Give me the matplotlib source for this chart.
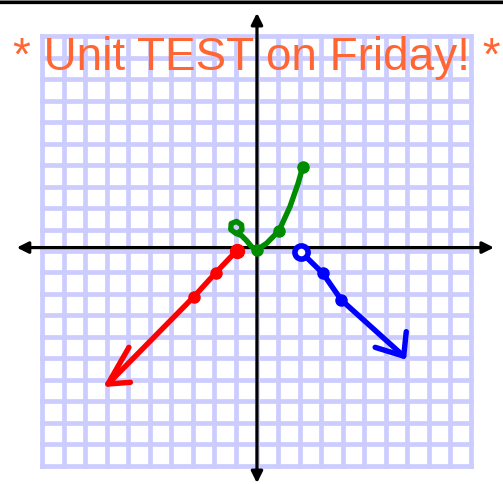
import numpy as np
import matplotlib.pyplot as plt

plt.rcParams['font.family'] = ['Liberation Sans', 'DejaVu Sans']

# hand-traced sketch, in grid units
green_x = [-0.85, -0.70, -0.72, -0.95, -1.20, -1.22, -0.98, -0.72, -0.48, -0.25, 0.00, 0.45, 1.03, 1.54, 1.92, 2.13]
green_y = [0.88, 0.98, 1.22, 1.38, 1.28, 1.00, 0.82, 0.72, 0.48, 0.20, 0.05, 0.36, 0.95, 2.07, 3.16, 3.90]
green_dots_x = [0.00, 1.03, 2.13]
green_dots_y = [0.05, 0.95, 3.90]

red_x = [-0.95, -1.92, -2.94, -6.95]
red_y = [0.01, -1.01, -2.13, -6.20]
red_head_x = [-5.97, -6.95, -5.90]
red_head_y = [-4.49, -6.20, -6.12]

blue_x = [2.04, 3.07, 3.93, 6.84]
blue_y = [-0.03, -1.04, -2.28, -4.90]
blue_head_x = [5.51, 6.84, 6.96]
blue_head_y = [-4.49, -4.90, -3.76]

title = "* Unit TEST on Friday! *"

fig = plt.figure(figsize=(5.03, 4.84), dpi=100)
ax = fig.add_axes([0, 0, 1, 1])
ax.set_xlim(-11.98, 11.47)
ax.set_ylim(-10.86, 11.70)
ax.axis('off')

# graph paper
for k in range(-10, 11):
    ax.plot([k, k], [-10, 10], color='#ccccff', lw=3.4, zorder=1, solid_capstyle='projecting')
    ax.plot([-10, 10], [k, k], color='#ccccff', lw=3.4, zorder=1, solid_capstyle='projecting')

# top border line
ax.plot([-11.98, 11.47], [11.6, 11.6], color='black', lw=2.2, zorder=2, clip_on=False)
ax.plot([-11.98, 11.47], [11.6, 11.6], color='#888888', lw=3.2, zorder=1.9, clip_on=False)

ax.text(-0.02, 8.42, title, color='#ff6633', fontsize=33, ha='center', va='baseline', zorder=2)

# axes with arrows
arr = dict(arrowstyle='<|-|>', lw=2.3, color='black', mutation_scale=17, shrinkA=0, shrinkB=0)
ax.annotate('', xy=(-11.2, 0.16), xytext=(11.05, 0.16), arrowprops=arr, zorder=3)
ax.annotate('', xy=(0, 11.1), xytext=(0, -10.82), arrowprops=arr, zorder=3)

lw = 3.9
ax.plot(green_x, green_y, color='#008c00', lw=lw, zorder=4, solid_capstyle='round', solid_joinstyle='round')
ax.plot(green_dots_x, green_dots_y, 'o', color='#008c00', ms=8, zorder=4)

ax.plot(red_x, red_y, color='red', lw=lw, zorder=4, solid_capstyle='round')
ax.plot(red_head_x, red_head_y, color='red', lw=lw, zorder=4, solid_capstyle='round', solid_joinstyle='round')
ax.plot(red_x[:3], red_y[:3], 'o', color='red', ms=8, zorder=4)
ax.plot(red_x[:1], red_y[:1], 'o', color='red', ms=10, zorder=4)

ax.plot(blue_x, blue_y, color='blue', lw=lw, zorder=4, solid_capstyle='round')
ax.plot(blue_head_x, blue_head_y, color='blue', lw=lw, zorder=4, solid_capstyle='round', solid_joinstyle='round')
ax.plot(blue_x[1:3], blue_y[1:3], 'o', color='blue', ms=8, zorder=4)
ax.plot(blue_x[:1], blue_y[:1], 'o', mfc='white', mec='blue', mew=4, ms=9.5, zorder=5)

fig.savefig('out.png', dpi=100)
